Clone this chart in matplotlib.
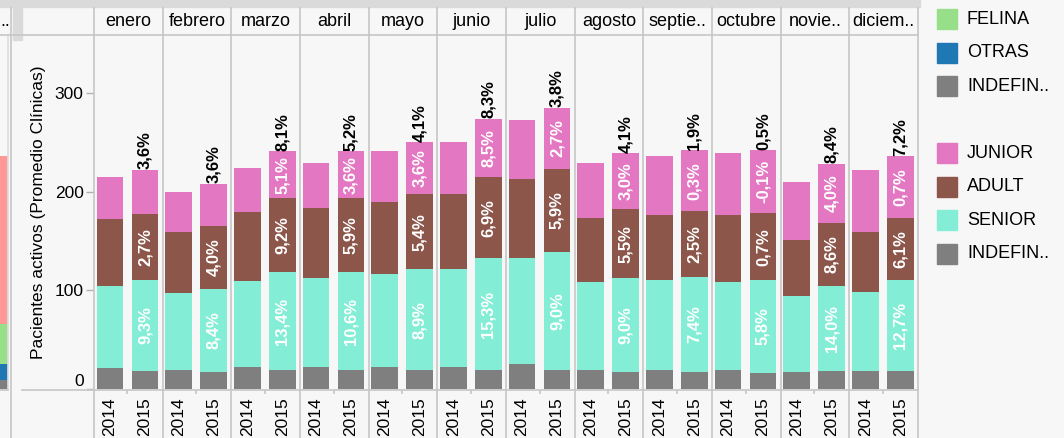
import matplotlib
matplotlib.use("Agg")
import matplotlib.pyplot as plt
from matplotlib.lines import Line2D
from matplotlib.patches import Rectangle

plt.rcParams["font.family"] = ["Liberation Sans", "DejaVu Sans"]

# datos (promedio de pacientes activos por clínica)
meses = ["enero", "febrero", "marzo", "abril", "mayo", "junio", "julio",
         "agosto", "septie..", "octubre", "novie..", "diciem.."]
anios = ["2014", "2015"]

indef_2014 = [21, 19, 22, 22, 22, 22, 25, 19, 19, 19, 17, 18]
indef_2015 = [18, 17, 19, 19, 19, 19, 19, 17, 17, 16, 18, 18]
senior_2014 = [83, 78, 87, 90, 94, 99, 107, 89, 91, 89, 77, 80]
senior_2015 = [92, 84, 99, 99, 102, 113, 120, 95, 96, 94, 86, 92]
adult_2014 = [68, 62, 70, 71, 73, 76, 81, 65, 66, 68, 57, 61]
adult_2015 = [67, 64, 75, 75, 76, 83, 84, 70, 67, 68, 64, 63]
junior_2014 = [43, 41, 45, 46, 52, 53, 60, 56, 60, 63, 59, 63]
junior_2015 = [45, 43, 48, 48, 53, 59, 62, 57, 62, 64, 60, 63]

lbl_senior = ["9,3%", "8,4%", "13,4%", "10,6%", "8,9%", "15,3%", "9,0%", "9,0%", "7,4%", "5,8%", "14,0%", "12,7%"]
lbl_adult = ["2,7%", "4,0%", "9,2%", "5,9%", "5,4%", "6,9%", "5,9%", "5,5%", "2,5%", "0,7%", "8,6%", "6,1%"]
lbl_junior = ["", "", "5,1%", "3,6%", "3,6%", "8,5%", "2,7%", "3,0%", "0,3%", "-0,1%", "4,0%", "0,7%"]
lbl_total = ["3,6%", "3,6%", "8,1%", "5,2%", "4,1%", "8,3%", "3,8%", "4,1%", "1,9%", "0,5%", "8,4%", "7,2%"]

# panel cortado a la izquierda (especie)
izq_vals = [9, 16, 40, 171]
izq_cols = ["#7f7f7f", "#1f77b4", "#98df8a", "#ff9896"]

COL = {"INDEF": "#7f7f7f", "SENIOR": "#84edd6", "ADULT": "#8c564b", "JUNIOR": "#e377c2",
       "FELINA": "#98df8a", "OTRAS": "#1f77b4"}
BG = "#f7f7f7"
LINE = "#c6c6c6"

W, H = 1064, 438
fig = plt.figure(figsize=(W / 100, H / 100), dpi=100, facecolor=BG)


def fx(px):
    return px / W


def fy(py):
    return 1 - py / H


def vline(x, y0, y1, color=LINE, lw=1.2):
    fig.add_artist(Line2D([fx(x), fx(x)], [fy(y0), fy(y1)], color=color, lw=lw, transform=fig.transFigure))


def hline(y, x0, x1, color=LINE, lw=1.2):
    fig.add_artist(Line2D([fx(x0), fx(x1)], [fy(y), fy(y)], color=color, lw=lw, transform=fig.transFigure))


# geometría en pixeles
top_px, bot_px = 35, 389.5
ylim = (-1.0, 358.9)
p_left, p_w = 94, 68.67

# franja gris superior
fig.add_artist(Rectangle((0, fy(7)), fx(920), 7 / H, color="#dadada", transform=fig.transFigure))
fig.add_artist(Rectangle((fx(13), fy(40)), fx(9), 33 / H, color="#dadada", transform=fig.transFigure))

# panel cortado
ax0 = fig.add_axes([0, fy(bot_px), fx(7.5), (bot_px - top_px) / H])
ax0.set_facecolor("none")
base = 0
for v, c in zip(izq_vals, izq_cols):
    ax0.bar(0, v, bottom=base, width=1, color=c)
    base += v
ax0.set_xlim(-0.5, 0.5)
ax0.set_ylim(*ylim)
ax0.axis("off")
fig.text(fx(0), fy(21.5), "..", ha="left", va="center", fontsize=13)

for i, mes in enumerate(meses):
    left = p_left + i * p_w
    ax = fig.add_axes([fx(left), fy(bot_px), fx(p_w), (bot_px - top_px) / H])
    ax.set_facecolor("none")
    for j, (ind, sen, adu, jun) in enumerate([
        (indef_2014[i], senior_2014[i], adult_2014[i], junior_2014[i]),
        (indef_2015[i], senior_2015[i], adult_2015[i], junior_2015[i]),
    ]):
        b = 0
        for v, k in zip([ind, sen, adu, jun], ["INDEF", "SENIOR", "ADULT", "JUNIOR"]):
            ax.bar(j, v, bottom=b, width=0.76, color=COL[k])
            b += v
        if j == 1:
            b = ind
            for v, lab in zip([sen, adu, jun], [lbl_senior[i], lbl_adult[i], lbl_junior[i]]):
                if lab:
                    ax.text(j, b + v / 2, lab, rotation=90, ha="center", va="center",
                            color="white", fontsize=12, fontweight="bold")
                b += v
            ax.text(j, b + 0.5, lbl_total[i], rotation=90, ha="center", va="bottom",
                    color="black", fontsize=12, fontweight="bold", clip_on=False)
    ax.set_xlim(-0.457, 1.505)
    ax.set_ylim(*ylim)
    for s in ax.spines.values():
        s.set_visible(False)
    ax.set_xticks([0, 1])
    ax.set_xticklabels(anios, rotation=90, fontsize=12.5, va="top")
    ax.set_xticks([0.5], minor=True)
    ax.tick_params(axis="x", which="major", length=0, pad=5.5)
    ax.tick_params(axis="x", which="minor", length=3, color=LINE, width=1.2)
    if i == 0:
        ax.set_yticks([0, 100, 200, 300])
        ax.tick_params(axis="y", length=5.5, color="#b0b0b0", width=1, labelsize=12.5, pad=2)
        ax.get_yticklabels()[0].set_va("bottom")
    else:
        ax.set_yticks([])
    fig.text(fx(left + p_w / 2), fy(21.5), mes, ha="center", va="center", fontsize=13)

# líneas de separación
for i in range(13):
    vline(p_left + i * p_w, 7.5, 438)
vline(11, 7.5, 438)
vline(7.5, 35, 389.5, color="#dddddd")
hline(35, 0, 918)
hline(389.5, 22, 918)
hline(389.5, 0, 8)

fig.text(fx(39), fy(212), "Pacientes activos (Promedio Clínicas)", rotation=90,
         ha="center", va="center", fontsize=12.5)

# leyendas
leg1 = [("FELINA", COL["FELINA"]), ("OTRAS", COL["OTRAS"]), ("INDEFIN..", COL["INDEF"])]
leg2 = [("JUNIOR", COL["JUNIOR"]), ("ADULT", COL["ADULT"]), ("SENIOR", COL["SENIOR"]), ("INDEFIN..", COL["INDEF"])]
for items, y0 in [(leg1, 19), (leg2, 153)]:
    for n, (name, c) in enumerate(items):
        yc = y0 + n * 33.6
        fig.add_artist(Rectangle((fx(937), fy(yc + 10)), fx(20), 20 / H, color=c, transform=fig.transFigure))
        fig.text(fx(967), fy(yc), name, ha="left", va="center", fontsize=13)

fig.savefig("out.png", dpi=100, facecolor=BG)
